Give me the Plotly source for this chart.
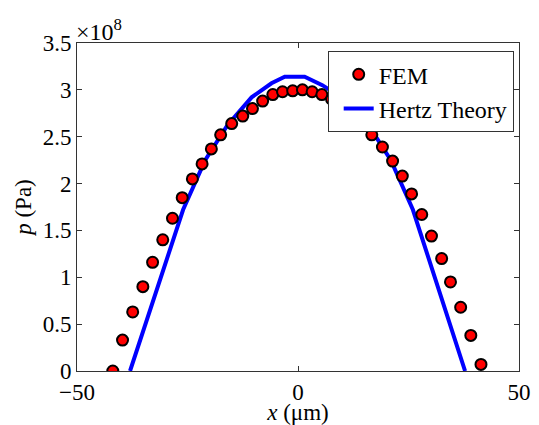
import plotly.graph_objects as go

# FEM contact pressure (units of 1e8 Pa)
fem_x = [-41.9, -39.7, -37.4, -35.1, -32.9, -30.6, -28.4, -26.2, -23.9, -21.7,
         -19.6, -17.5, -15.0, -12.5, -10.3, -8.0, -5.7, -3.5, -1.2,
         1.0, 3.2, 5.4, 7.6, 9.8, 11.9, 14.0, 16.7, 19.1, 21.4,
         23.6, 25.7, 28.0, 30.2, 32.5, 34.5, 36.8, 39.1, 41.4]
fem_p = [0.0, 0.33, 0.63, 0.90, 1.16, 1.40, 1.63, 1.85, 2.05, 2.21,
         2.37, 2.52, 2.64, 2.72, 2.80, 2.88, 2.95, 2.98, 2.99,
         3.00, 2.98, 2.95, 2.90, 2.83, 2.75, 2.64, 2.52, 2.39, 2.24,
         2.08, 1.89, 1.67, 1.44, 1.20, 0.95, 0.68, 0.38, 0.07]

# Hertz theory (units of 1e8 Pa)
hertz_x = [-38.0, -32.0, -26.0, -21.0, -16.0, -10.5, -6.0, -3.0, 0.0, 1.5, 5.5, 10.5, 16.0, 21.0, 26.0, 32.0, 37.8]
hertz_p = [0.0, 0.86, 1.72, 2.25, 2.62, 2.92, 3.07, 3.14, 3.14, 3.14, 3.05, 2.90, 2.62, 2.25, 1.72, 0.86, 0.0]

x_ticks = [-50, 0, 50]
x_tick_text = ["\u221250", "0", "50"]
y_ticks = [0, 0.5, 1, 1.5, 2, 2.5, 3, 3.5]
y_tick_text = ["0", "0.5", "1", "1.5", "2", "2.5", "3", "3.5"]

FONT = "Liberation Serif, Times New Roman, serif"
FS = 23

fig = go.Figure()
fig.add_trace(go.Scatter(
    x=hertz_x, y=hertz_p, mode="lines", name="Hertz Theory",
    line=dict(color="#0000ff", width=4), showlegend=False))
fig.add_trace(go.Scatter(
    x=fem_x, y=fem_p, mode="markers", name="FEM",
    marker=dict(color="#ff0000", size=11, line=dict(color="black", width=2))))
# legend-only entry so that FEM is listed first
fig.add_trace(go.Scatter(
    x=[None], y=[None], mode="lines", name="Hertz Theory",
    line=dict(color="#0000ff", width=4)))

axis_common = dict(
    showline=True, linecolor="#333333", linewidth=1, mirror="ticks",
    ticks="inside", ticklen=5, tickcolor="#333333", showgrid=False,
    zeroline=False, automargin=False,
    tickfont=dict(family=FONT, size=FS, color="black"))

fig.update_xaxes(range=[-50, 50], tickvals=x_ticks, ticktext=x_tick_text,
                 title=dict(text="<i>x</i> (μm)", font=dict(family=FONT, size=FS, color="black"), standoff=2),
                 **axis_common)
fig.update_yaxes(range=[0, 3.5], tickvals=y_ticks, ticktext=y_tick_text,
                 title=dict(text="<i>p</i> (Pa)", font=dict(family=FONT, size=FS, color="black"), standoff=4),
                 **axis_common)

fig.add_annotation(x=0, y=1, xref="paper", yref="paper", xanchor="left", yanchor="bottom",
                   text="×10<sup>8</sup>", showarrow=False, xshift=-3, yshift=-4,
                   font=dict(family=FONT, size=24, color="black"))

fig.update_layout(
    width=539, height=425,
    margin=dict(l=77, r=20, t=43, b=54, autoexpand=False),
    paper_bgcolor="white", plot_bgcolor="white",
    legend=dict(x=0.988, y=0.975, xanchor="right", yanchor="top",
                bgcolor="white", bordercolor="#333333", borderwidth=1,
                font=dict(family=FONT, size=24, color="black"),
                tracegroupgap=0, indentation=10),
)

fig.write_html("out.html")
